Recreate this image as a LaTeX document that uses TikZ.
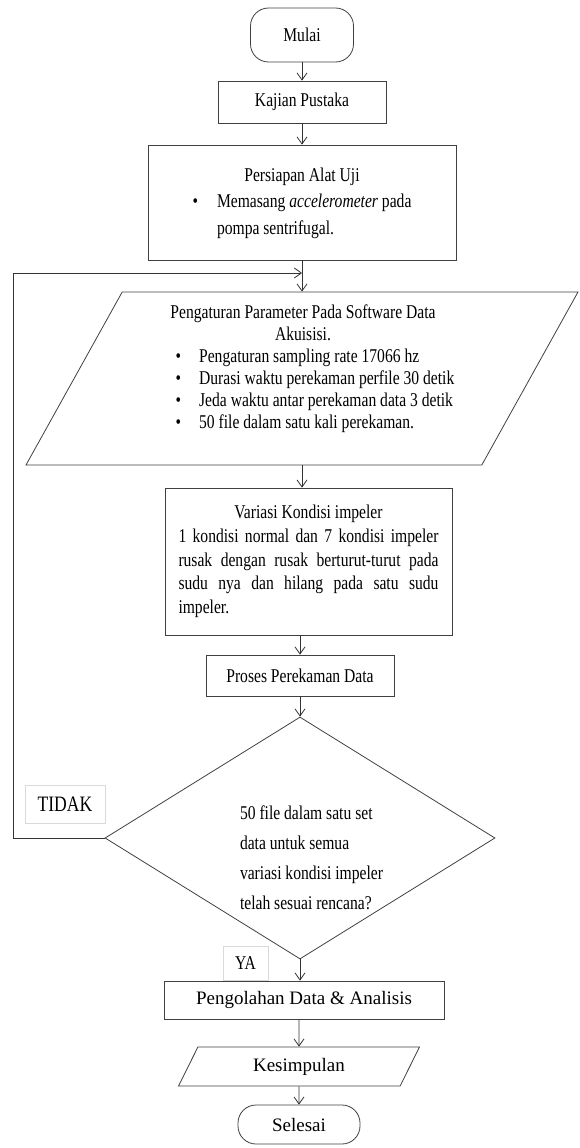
\documentclass[tikz,border=0pt]{standalone}
\usepackage{fontspec}
\setmainfont{Liberation Serif}[FakeStretch=0.8]
\newfontfamily\lebar{Liberation Serif}
\usetikzlibrary{shapes.geometric,arrows.meta}
\hyphenpenalty=10000
\exhyphenpenalty=10000
\tolerance=10000

\begin{document}
\begin{tikzpicture}[x=1pt, y=-1pt,
    font=\fontsize{19.5}{22}\selectfont,
    proses/.style = {shape=rectangle, draw=black!75, line width=0.8pt,
      align=center, inner sep=0pt},
    terminal/.style = {proses, rounded corners=18pt},
    datain/.style = {shape=trapezium, draw=black!75, line width=0.8pt,
      trapezium stretches body, inner sep=0pt, align=center},
    decision/.style = {shape=diamond, draw=black!75, line width=0.8pt, inner sep=0pt},
    ket/.style = {shape=rectangle, draw=black!15, inner sep=0pt},
    arr/.style = {draw=black!80, line width=0.8pt, -{Straight Barb[length=7pt,width=10pt]}}]
  \useasboundingbox (0,0) rectangle (579,1148);

  \node (mulai) [terminal, minimum width=103pt, minimum height=54pt] at (302,35) {Mulai};
  \node (kajian) [proses, minimum width=168pt, minimum height=42pt] at (302,102) {Kajian Pustaka};
  \node (persiapan) [proses, minimum width=308pt, minimum height=115pt,
      font=\fontsize{19.5}{26.5}\selectfont] at (302,202.5) {%
    \begin{tabular}{@{}l@{\hspace{19pt}}l@{}}
      \multicolumn{2}{c}{Persiapan Alat Uji}\\
      \textbullet & Memasang \textit{accelerometer} pada\\
      & pompa sentrifugal.
    \end{tabular}};
  \node (param) [datain, trapezium left angle=57.5, trapezium right angle=122.5,
      minimum width=552pt, minimum height=173pt] at (302,378.5) {%
    \hspace{26pt}\begin{tabular}{@{}l@{\hspace{18pt}}l@{}}
      \multicolumn{2}{c}{\hspace{-24pt}Pengaturan Parameter Pada Software Data}\\
      \multicolumn{2}{c}{\hspace{-24pt}Akuisisi.}\\
      \textbullet & Pengaturan sampling rate 17066 hz\\
      \textbullet & Durasi waktu perekaman perfile 30 detik\\
      \textbullet & Jeda waktu antar perekaman data 3 detik\\
      \textbullet & 50 file dalam satu kali perekaman.\\[19pt]
    \end{tabular}};
  \node (variasi) [proses, minimum width=287pt, minimum height=147pt, text width=260pt,
      align=justify, font=\fontsize{19.5}{23.7}\selectfont] at (308.5,561.5) {%
    \makebox[\hsize]{Variasi Kondisi impeler}\\
    1 kondisi normal dan 7 kondisi impeler rusak dengan rusak berturut-turut
    pada sudu nya dan hilang pada satu sudu impeler.};
  \node (rekam) [proses, minimum width=188pt, minimum height=41pt] at (300,675.5) {Proses Perekaman Data};
  \node (cek) [decision, minimum width=390pt, minimum height=242pt,
      label={[align=left, xshift=11.5pt, yshift=-20pt, font=\fontsize{19.5}{30}\selectfont]center:50 file dalam satu set\\data untuk semua\\variasi kondisi impeler\\telah sesuai rencana?}]
      at (300,838) {};
  \node (tidak) [ket, minimum width=80pt, minimum height=38pt,
      font=\fontsize{22}{24}\selectfont] at (65,804) {TIDAK};
  \node (ya) [ket, minimum width=45pt, minimum height=34pt] at (245.5,963) {YA};
  \node (olah) [proses, minimum width=280pt, minimum height=38pt,
      font=\lebar\fontsize{19}{22}\selectfont] at (304,1000) {Pengolahan Data \& Analisis};
  \node (simpul) [datain, trapezium left angle=41.6, trapezium right angle=138.4,
      minimum width=241pt, minimum height=39pt,
      font=\lebar\fontsize{19}{22}\selectfont] at (299,1066.5) {Kesimpulan};
  \node (selesai) [terminal, minimum width=122pt, minimum height=39pt,
      font=\lebar\fontsize{19}{22}\selectfont] at (299,1124.5) {Selesai};

  \coordinate (sudut) at (13,838);
  \coordinate (masuk) at (302,273);

  \draw[arr] (mulai) -- (kajian);
  \draw[arr] (kajian) -- (persiapan);
  \draw[arr] (persiapan) -- (param);
  \draw[arr] (param.south) -- (param.south |- variasi.north);
  \draw[arr] (variasi.south -| rekam) -- (rekam);
  \draw[arr] (rekam) -- (cek);
  \draw[arr] (cek.south) -- (cek.south |- olah.north);
  \draw[arr] (olah.south -| simpul) -- (simpul);
  \draw[arr] (simpul) -- (selesai);
  \draw[arr] (cek.west) -- (sudut) |- (masuk);
\end{tikzpicture}
\end{document}
